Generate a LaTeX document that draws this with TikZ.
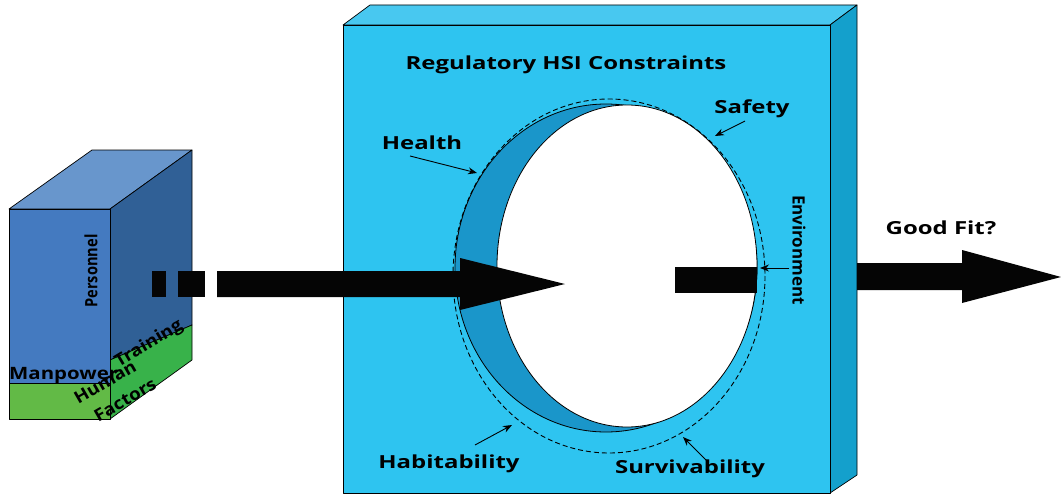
\documentclass[tikz,border=0pt]{standalone}
\usepackage{fontspec}
\setmainfont{Open Sans}
\newfontfamily\lblfont[FakeStretch=1.33]{Open Sans}
\newfontfamily\boxfontwide[FakeStretch=1.1]{Open Sans}
\newfontfamily\boxfontman[FakeStretch=1.2]{Open Sans}
\newfontfamily\boxfontnarrow[FakeStretch=0.86]{Open Sans}
\usetikzlibrary{arrows.meta}
\definecolor{boxfront}{RGB}{68,122,192}
\definecolor{boxtop}{RGB}{104,150,204}
\definecolor{boxright}{RGB}{48,96,150}
\definecolor{greenfront}{RGB}{98,186,70}
\definecolor{greenright}{RGB}{56,178,74}
\definecolor{panelfront}{RGB}{46,196,240}
\definecolor{paneltop}{RGB}{72,200,240}
\definecolor{panelright}{RGB}{20,160,204}
\definecolor{crescent}{RGB}{26,150,202}
\definecolor{arrowblack}{RGB}{5,5,5}
\tikzset{
  face/.style={draw=black, line width=0.7pt, line join=round},
  bigarrow/.style={fill=arrowblack, draw=none},
  lbl/.style={font=\lblfont\bfseries\fontsize{18}{18}\selectfont, inner sep=0pt},
  boxlbl/.style={font=\boxfontwide\bfseries\fontsize{17}{17}\selectfont, inner sep=0pt},
  ptr/.style={-{Stealth[length=9pt,width=7pt]}, line width=0.9pt},
}
\begin{document}
\begin{tikzpicture}[x=1pt,y=-1pt]
\useasboundingbox (0,0) rectangle (1061,495);
% ---------- left box ----------
\draw[face, fill=boxtop] (9,209) -- (92,150) -- (192,150) -- (110,209) -- cycle;
\draw[face, fill=boxright] (110,209) -- (192,150) -- (192,325) -- (110,360) -- cycle;
\draw[face, fill=greenright] (110,360) -- (192,325) -- (192,360) -- (110,419) -- cycle;
\draw[face, fill=boxfront] (9,209) rectangle (110,383);
\draw[face, fill=greenfront] (9,383) rectangle (110,419);
\node[boxlbl, font=\boxfontnarrow\bfseries\fontsize{17}{17}\selectfont, rotate=90] (personnel) at (91,271) {Personnel};
\node[boxlbl, font=\boxfontman\bfseries\fontsize{17}{17}\selectfont, anchor=base west] (manpower) at (9,379) {Manpower};
\node[boxlbl, rotate=31] (training) at (149,344) {Training};
\node[boxlbl, rotate=30] (human) at (105,382) {Human};
\node[boxlbl, rotate=30] (factors) at (125,400) {Factors};
% ---------- center panel ----------
\draw[face, fill=paneltop] (343,25) -- (370,5) -- (857,5) -- (830,25) -- cycle;
\draw[face, fill=panelright] (830,25) -- (857,5) -- (857,475) -- (830,493) -- cycle;
\draw[face, fill=panelfront] (343,25) rectangle (830,493);
\node[lbl] (title) at (566,65) {Regulatory HSI Constraints};
% opening
\draw[line width=0.8pt, fill=crescent] (606,268) ellipse [x radius=151, y radius=164];
\draw[line width=0.8pt, fill=white] (627,266) ellipse [x radius=130, y radius=161];
\draw[line width=0.9pt, dashed, dash pattern=on 5pt off 3pt] (609,276) ellipse [x radius=156, y radius=177];
% ---------- arrows ----------
\node[bigarrow, minimum width=14pt, minimum height=26pt, inner sep=0pt] (dash1) at (159,284) {};
\node[bigarrow, minimum width=27pt, minimum height=26pt, inner sep=0pt] (dash2) at (191.5,284) {};
\coordinate (inTail) at (217,284);
\coordinate (inTip) at (565,284);
\fill[arrowblack] (inTail) ++(0,-13) -- ++(243,0) -- (460,258) -- (inTip) -- (460,310) -- (460,297) -- (217,297) -- cycle;
\node[bigarrow, minimum width=82pt, minimum height=26pt, inner sep=0pt] (stub) at (716,280) {};
\coordinate (outTip) at (1061,277);
\fill[arrowblack] (857,263) -- (962,263) -- (962,250) -- (outTip) -- (962,303) -- (962,290) -- (857,290) -- cycle;
\node[lbl] (goodfit) at (941,228) {Good Fit?};
% ---------- labels ----------
\node[lbl] (safety) at (752,109) {Safety};
\node[lbl] (health) at (422,143) {Health};
\node[lbl] (habit) at (449,464) {Habitability};
\node[lbl] (surv) at (690,469) {Survivability};
\node[boxlbl, font=\bfseries\fontsize{17}{17}\selectfont, rotate=-90] (env) at (799,250) {Environment};
\coordinate (safetyT) at (715,136);
\coordinate (healthT) at (477,173);
\coordinate (habitT) at (512,425);
\coordinate (survT) at (683,437);
\coordinate (envT) at (760,268);
\draw[ptr] (745,121) -- (safetyT);
\draw[ptr] (410,156) -- (healthT);
\draw[ptr] (475,445) -- (habitT);
\draw[ptr] (708,462) -- (survT);
\draw[ptr] (789,268) -- (envT);
\end{tikzpicture}
\end{document}
